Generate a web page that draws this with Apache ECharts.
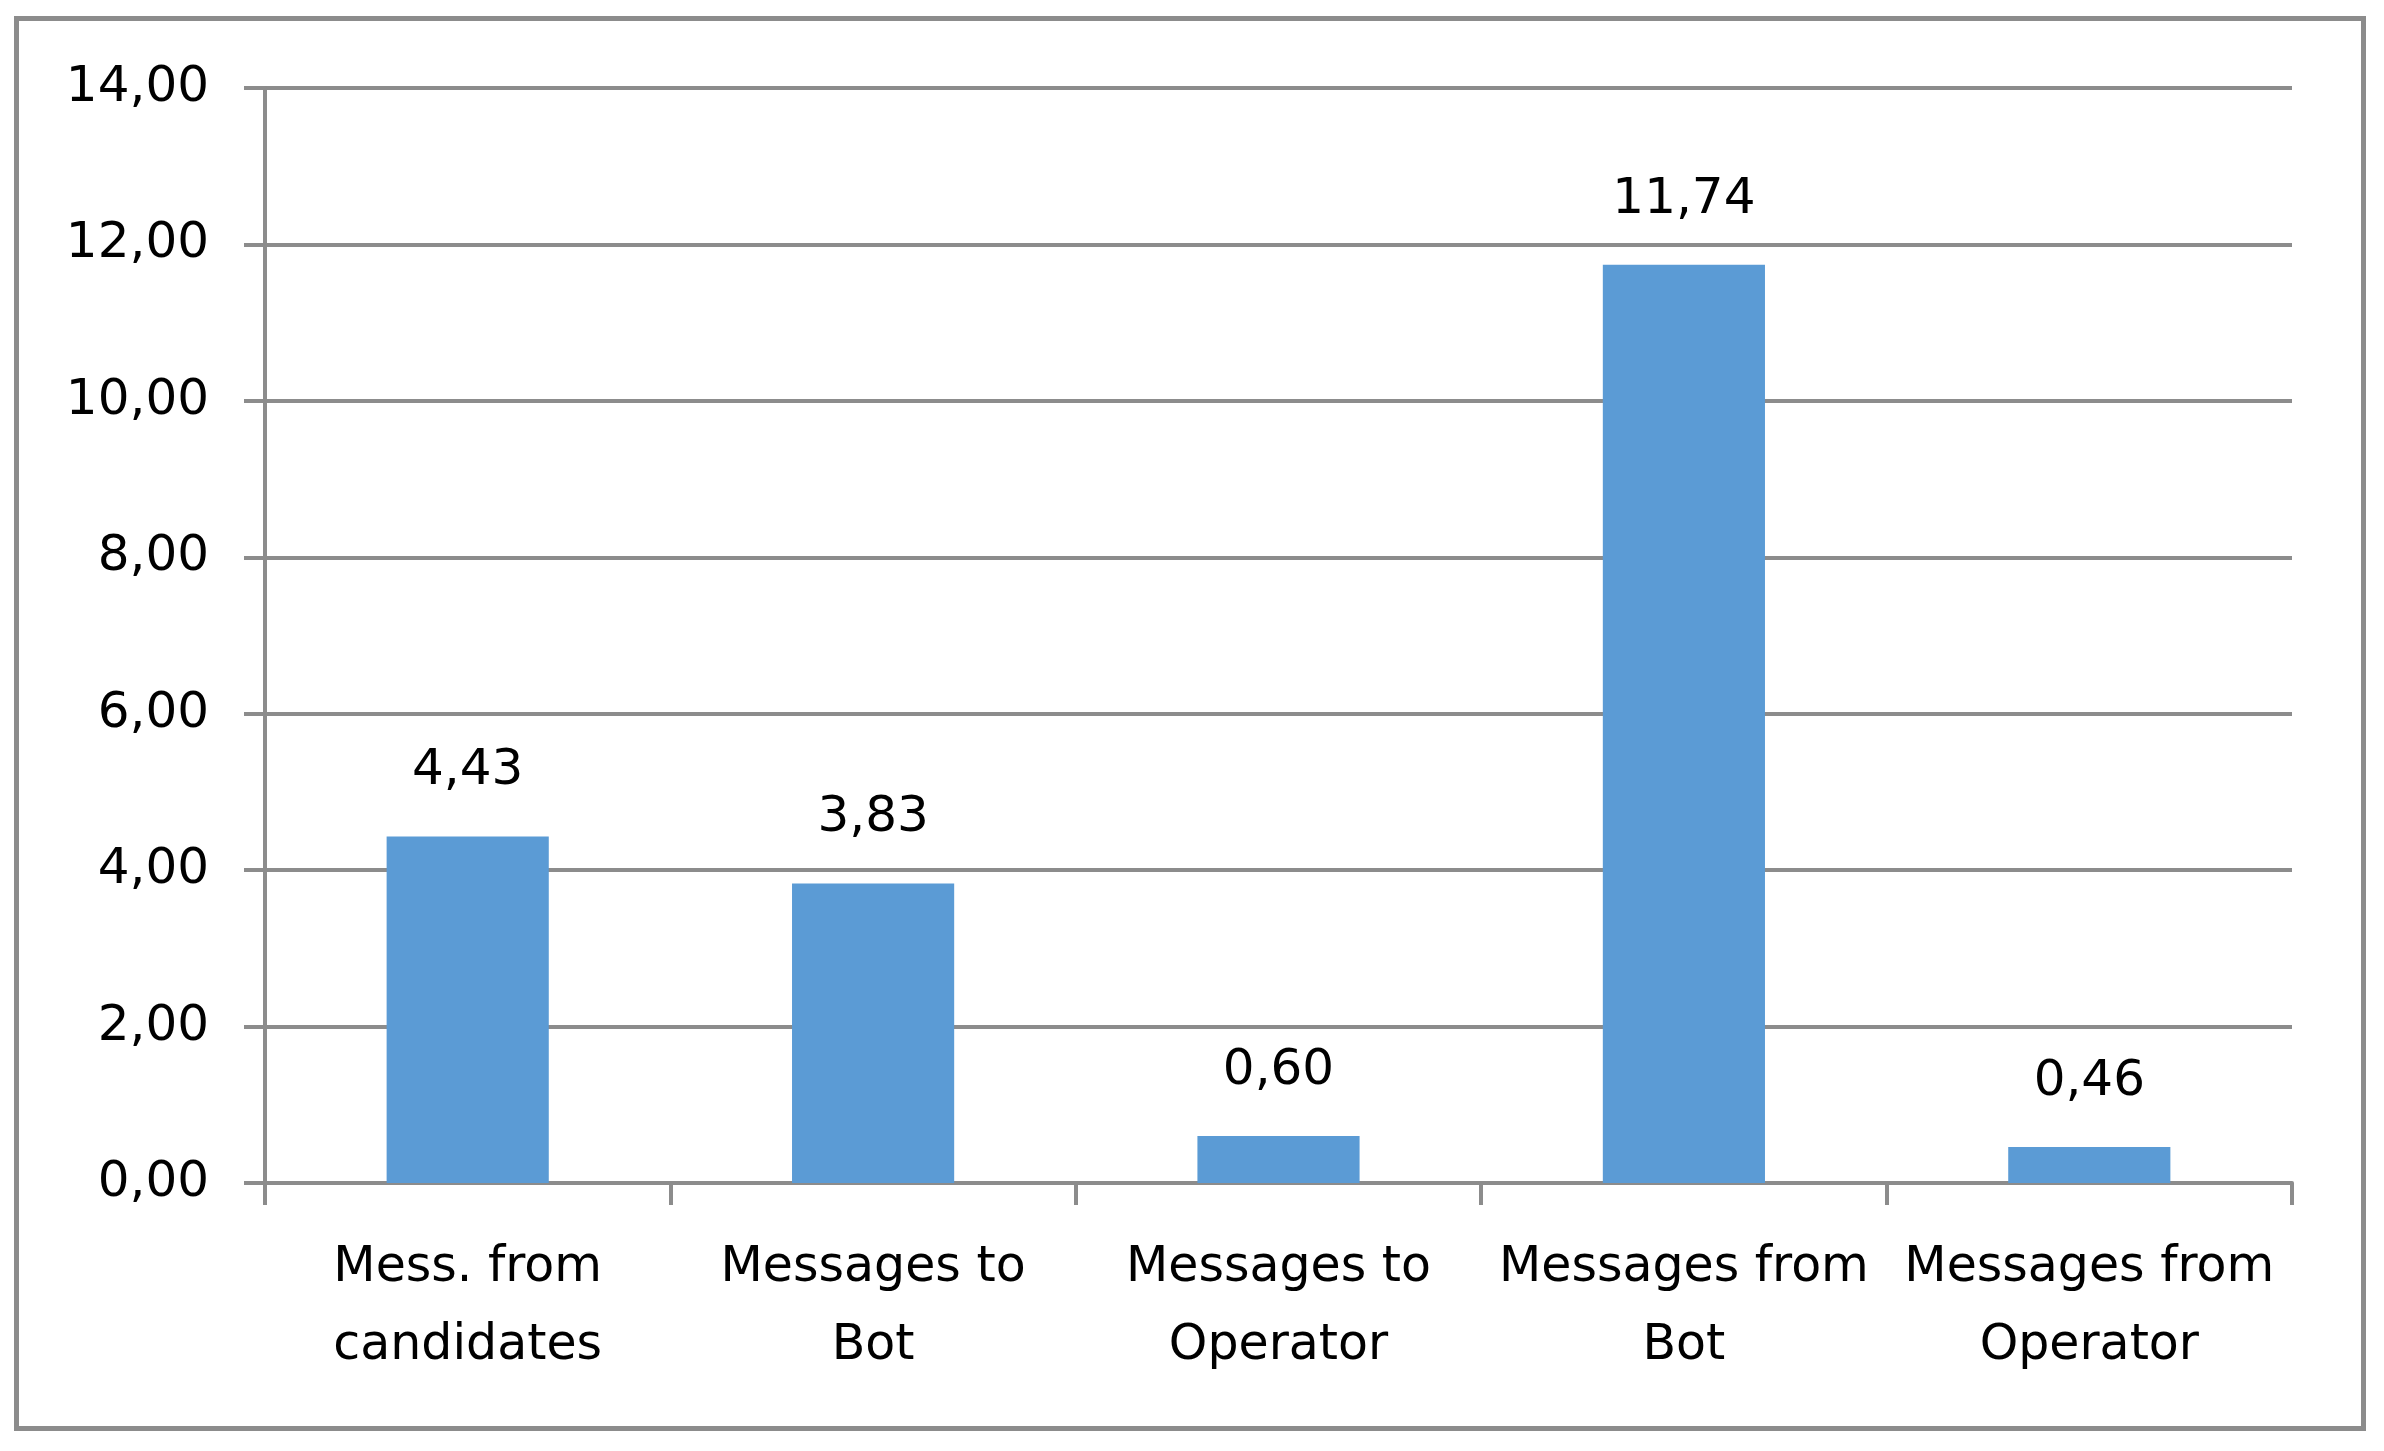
<!DOCTYPE html>
<html>
<head>
<meta charset="utf-8">
<script src="https://cdn.jsdelivr.net/npm/echarts@6/dist/echarts.min.js"></script>
<style>
  html, body { margin: 0; padding: 0; background: #fff; }
  #chart { width: 2384px; height: 1451px; }
</style>
</head>
<body>
<div id="chart"></div>
<script>
const categories = [
  'Mess. from\ncandidates',
  'Messages to\nBot',
  'Messages to\nOperator',
  'Messages from\nBot',
  'Messages from\nOperator',
]
const values = [4.43, 3.83, 0.60, 11.74, 0.46]

const yMin = 0
const yMax = 14
const yStep = 2

const gray = '#8c8c8c'
const font = '"DejaVu Sans", sans-serif'

// Excel style decimal comma
function fmt(v) {
  return Number(v).toFixed(2).replace('.', ',')
}

const chart = echarts.init(document.getElementById('chart'))

chart.setOption({
  animation: false,
  textStyle: { fontFamily: font },
  graphic: [{
    type: 'rect',
    shape: { x: 16.5, y: 18.5, width: 2347, height: 1410 },
    style: { fill: 'none', stroke: gray, lineWidth: 5 },
    silent: true,
  }],
  grid: {
    left: 265,
    right: 92,
    top: 88,
    bottom: 268,
  },
  xAxis: {
    type: 'category',
    data: categories,
    axisLine: { lineStyle: { color: gray, width: 4 } },
    axisTick: { show: true, length: 22, lineStyle: { color: gray, width: 4 } },
    axisLabel: {
      color: '#000',
      fontFamily: font,
      fontSize: 49,
      lineHeight: 78,
      margin: 46,
      interval: 0,
    },
  },
  yAxis: {
    type: 'value',
    min: yMin,
    max: yMax,
    interval: yStep,
    axisLine: { show: true, lineStyle: { color: gray, width: 4 } },
    axisTick: { show: true, length: 21, lineStyle: { color: gray, width: 4 } },
    splitLine: { lineStyle: { color: gray, width: 4 } },
    axisLabel: {
      color: '#000',
      fontFamily: font,
      fontSize: 50,
      margin: 56,
      formatter: fmt,
    },
  },
  series: [{
    type: 'bar',
    data: values,
    barWidth: '40%',
    itemStyle: { color: '#5b9bd5' },
    label: {
      show: true,
      position: 'top',
      distance: 40,
      color: '#000',
      fontFamily: font,
      fontSize: 50,
      lineHeight: 50,
      formatter: p => fmt(p.value),
    },
  }],
})
</script>
</body>
</html>
